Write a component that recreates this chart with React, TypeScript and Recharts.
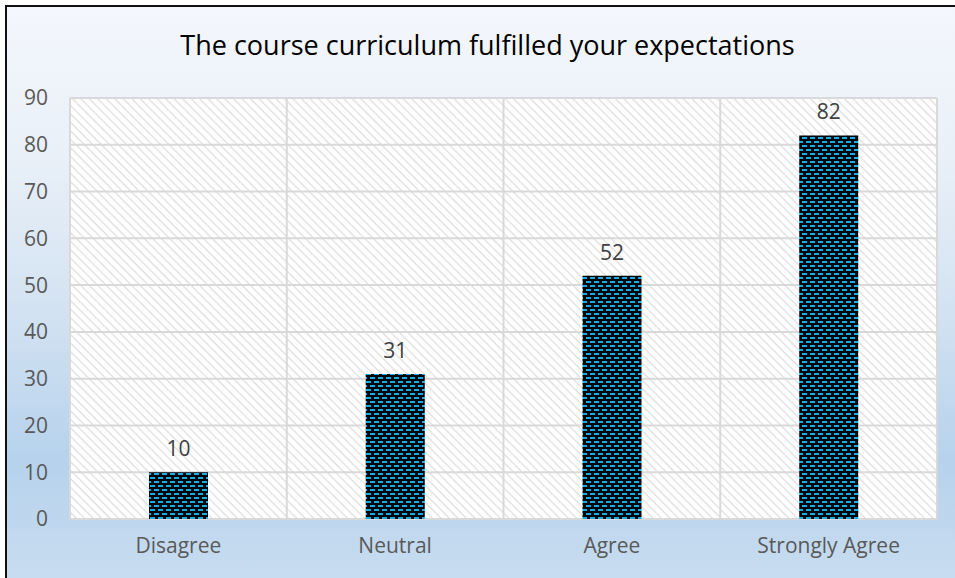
import React from "react";
import { BarChart, Bar, XAxis, YAxis, CartesianGrid, LabelList } from "recharts";

const categories = ["Disagree", "Neutral", "Agree", "Strongly Agree"];
const counts = [10, 31, 52, 82];
const yTicks = [0, 10, 20, 30, 40, 50, 60, 70, 80, 90];
const title = "The course curriculum fulfilled your expectations";

const data = categories.map((c, i) => ({ name: c, value: counts[i] }));

const FONT = "'Open Sans', 'Noto Sans', sans-serif";

export default function App() {
  return (
    <div style={{ position: "absolute", left: 0, top: 0, width: 955, height: 578, overflow: "hidden", background: "#fff" }}>
      <div
        style={{
          position: "absolute",
          left: 5,
          top: 5,
          width: 970,
          height: 600,
          boxSizing: "border-box",
          border: "2px solid #111",
          background: "linear-gradient(to bottom, #f4f7fc 0%, #e9f0f8 25%, #d4e3f2 50%, #b6d2ec 76%, #c4daef 92%, #cadef1 100%)",
        }}
      />
      <div style={{ position: "absolute", left: 0, top: 25, width: 975, textAlign: "center", fontFamily: FONT, fontSize: 27, color: "#000", lineHeight: "40px" }}>
        {title}
      </div>
      <div style={{ position: "absolute", left: 0, top: 0 }}>
        <BarChart width={955} height={578} data={data} margin={{ top: 98, right: 18, bottom: 0, left: 0 }} barSize={59}>
          <defs>
            <pattern id="hatch" width="6" height="6" patternUnits="userSpaceOnUse" patternTransform="rotate(45)">
              <rect width="6" height="6" fill="#ffffff" />
              <rect width="6" height="1.3" fill="#dedede" />
            </pattern>
            <pattern id="bricks" width="8" height="8" patternUnits="userSpaceOnUse">
              <rect width="8" height="8" fill="#000" />
              <rect x="2" y="1" width="5" height="2" fill="#12aeee" />
              <rect x="6" y="5" width="5" height="2" fill="#12aeee" />
              <rect x="-2" y="5" width="5" height="2" fill="#12aeee" />
            </pattern>
          </defs>
          <CartesianGrid
            fill="url(#hatch)"
            stroke="#d9d9d9"
            strokeWidth={2}
            verticalCoordinatesGenerator={({ offset }: any) =>
              [0, 1, 2, 3, 4].map((i) => offset.left + (i * offset.width) / 4)
            }
          />
          <XAxis
            dataKey="name"
            height={59}
            axisLine={false}
            tickLine={false}
            tickSize={0}
            tickMargin={19}
            tick={{ fill: "#595959", fontSize: 21, fontFamily: FONT }}
          />
          <YAxis
            domain={[0, 90]}
            ticks={yTicks}
            width={70}
            axisLine={false}
            tickLine={false}
            tickSize={0}
            tickMargin={22}
            interval={0}
            tick={{ fill: "#595959", fontSize: 21, fontFamily: FONT }}
          />
          <Bar dataKey="value" fill="url(#bricks)" isAnimationActive={false}>
            <LabelList dataKey="value" position="top" offset={16} fill="#404040" fontSize={21} fontFamily={FONT} />
          </Bar>
        </BarChart>
      </div>
    </div>
  );
}
